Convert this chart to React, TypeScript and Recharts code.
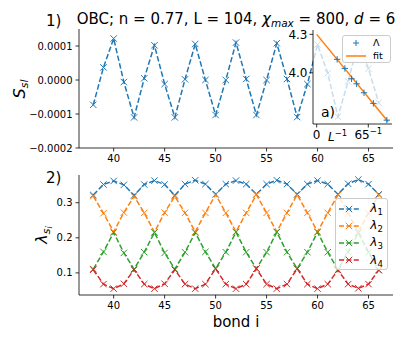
import { LineChart, Line, XAxis, YAxis, CartesianGrid, Legend } from "recharts"

// bond index i
const bonds = [38, 39, 40, 41, 42, 43, 44, 45, 46, 47, 48, 49, 50, 51, 52, 53, 54, 55, 56, 57, 58, 59, 60, 61, 62, 63, 64, 65, 66]

// panel 1): S_sl per bond
const sslValues = [
  -0.000073, 0.000037, 0.000122, -0.000006, -0.00011, 0.000005, 0.000102, -0.000012, -0.00011, 0.000002,
  0.000106, 0.0, -0.000103, 0.0, 0.00011, 0.000003, -0.000103, 0.0, 0.000108, 0.000003,
  -0.000109, -0.000012, 0.000104, 0.00002, -0.000108, -0.000004, 0.000112, 0.000033, -0.000067,
]

// panel 2): λ_1..λ_4 per bond
const lambda1 = [
  0.322, 0.352, 0.362, 0.351, 0.321, 0.352, 0.363, 0.352, 0.321, 0.353,
  0.364, 0.353, 0.324, 0.353, 0.363, 0.353, 0.324, 0.353, 0.364, 0.353,
  0.324, 0.353, 0.363, 0.353, 0.324, 0.354, 0.366, 0.353, 0.324,
]
const lambda2 = [
  0.319, 0.27, 0.217, 0.272, 0.318, 0.271, 0.216, 0.272, 0.318, 0.271,
  0.217, 0.271, 0.323, 0.271, 0.217, 0.271, 0.323, 0.271, 0.217, 0.271,
  0.323, 0.271, 0.217, 0.271, 0.322, 0.27, 0.216, 0.27, 0.322,
]
const lambda3 = [
  0.111, 0.16, 0.215, 0.157, 0.111, 0.159, 0.215, 0.157, 0.111, 0.159,
  0.215, 0.16, 0.112, 0.159, 0.216, 0.159, 0.112, 0.159, 0.216, 0.159,
  0.112, 0.159, 0.216, 0.159, 0.109, 0.16, 0.214, 0.159, 0.108,
]
const lambda4 = [
  0.109, 0.068, 0.055, 0.069, 0.109, 0.068, 0.055, 0.069, 0.109, 0.068,
  0.055, 0.068, 0.112, 0.068, 0.055, 0.068, 0.112, 0.068, 0.055, 0.068,
  0.112, 0.068, 0.055, 0.068, 0.108, 0.068, 0.056, 0.068, 0.108,
]
const lambdaNames = ["λ1", "λ2", "λ3", "λ4"]
const colors = ["#1f77b4", "#ff7f0e", "#2ca02c", "#d62728"]

// inset a): Λ against 1/L and its linear fit
const invL = [0.0061, 0.0084, 0.0104, 0.0119, 0.0141, 0.0169, 0.0209]
const bigLambda = [4.105, 4.034, 3.953, 3.914, 3.844, 3.761, 3.63]
const fitX = [0, 0.0213]
const fitY = [4.3, 3.617]
const insetNames = ["Λ", "fit"]

const xTicks = [40, 45, 50, 55, 60, 65]
const sslTicks = [-0.0002, -0.0001, 0, 0.0001]
const lambdaTicks = [0.1, 0.2, 0.3]
const insetXTicks = [0, 1 / 65]
const insetYTicks = [4.0, 4.3]

const topData = bonds.map((b, i) => ({ bond: b, ssl: sslValues[i] }))
const bottomData = bonds.map((b, i) => ({
  bond: b,
  l1: lambda1[i],
  l2: lambda2[i],
  l3: lambda3[i],
  l4: lambda4[i],
}))
const lambdaSeries = [lambda1, lambda2, lambda3, lambda4].map((_, i) => ({
  key: `l${i + 1}`,
  name: lambdaNames[i],
  color: colors[i],
}))
const pointsData = invL.map((x, i) => ({ x, y: bigLambda[i] }))
const fitData = fitX.map((x, i) => ({ x, y: fitY[i] }))

const font = "DejaVu Sans"
const tickStyle = { fontSize: 10, fill: "#000", fontFamily: font }
const lineStyle = { stroke: "#000", strokeWidth: 0.8 }
const dash = "5.5 2.4"

const xMark = (color: string) => (p: any) => {
  const { cx, cy, index } = p
  if (cx == null || cy == null) return <g key={index} />
  const s = 3.2
  return (
    <path
      key={index}
      d={`M${cx - s},${cy - s}L${cx + s},${cy + s}M${cx - s},${cy + s}L${cx + s},${cy - s}`}
      stroke={color}
      strokeWidth={1}
      fill="none"
    />
  )
}

const plusMark = (color: string) => (p: any) => {
  const { cx, cy, index } = p
  if (cx == null || cy == null) return <g key={index} />
  const s = 3.2
  return (
    <path key={index} d={`M${cx - s},${cy}L${cx + s},${cy}M${cx},${cy - s}L${cx},${cy + s}`} stroke={color} strokeWidth={1} fill="none" />
  )
}

const fmtSsl = (v: number) => (v === 0 ? "0.0000" : (v < 0 ? "\u2212" : "") + Math.abs(v).toFixed(4))

const InsetTick = (p: any) => {
  const { x, y, payload } = p
  const isZero = payload.value === 0
  return (
    <text x={x} y={y + 8.5} textAnchor="middle" fontSize={12} fontFamily={font} fill="#000">
      {isZero ? (
        "0"
      ) : (
        <>
          <tspan>65</tspan>
          <tspan dy={-5} fontSize={8.5}>
            {"\u22121"}
          </tspan>
        </>
      )}
    </text>
  )
}

const renderLambdaLegend = (props: any) => (
  <div
    style={{
      width: 53,
      height: 72,
      boxSizing: "border-box",
      border: "1px solid #cccccc",
      borderRadius: 3,
      background: "rgba(255,255,255,0.8)",
      paddingTop: 1,
      fontFamily: font,
    }}
  >
    {(props.payload || []).map((e: any, i: number) => (
      <div key={i} style={{ height: 17.2, display: "flex", alignItems: "center" }}>
        <svg width={20} height={10} style={{ marginLeft: 3.3, flex: "none" }}>
          <line x1={0} x2={20} y1={5} y2={5} stroke={e.color} strokeWidth={1.5} strokeDasharray="5 2.4" />
          <path d="M6.8,1.8L13.2,8.2M6.8,8.2L13.2,1.8" stroke={e.color} strokeWidth={1} />
        </svg>
        <span style={{ marginLeft: 11, fontSize: 12, lineHeight: "12px", color: "#000" }}>
          <span style={{ fontStyle: "italic" }}>{String(e.value).slice(0, 1)}</span>
          <span style={{ fontSize: 8.5, position: "relative", top: 3 }}>{String(e.value).slice(1)}</span>
        </span>
      </div>
    ))}
  </div>
)

const renderInsetLegend = () => (
  <div
    style={{
      width: 49,
      height: 28,
      boxSizing: "border-box",
      border: "1px solid #cccccc",
      borderRadius: 3,
      background: "rgba(255,255,255,0.8)",
      fontFamily: font,
    }}
  >
    {insetNames.map((name, i) => (
      <div key={name} style={{ height: 13, display: "flex", alignItems: "center" }}>
        <svg width={20} height={8} style={{ marginLeft: 3, flex: "none" }}>
          {i === 1 ? (
            <line x1={0} x2={20} y1={4} y2={4} stroke={colors[1]} strokeWidth={1.5} />
          ) : (
            <path d="M7,4L13,4M10,1L10,7" stroke={colors[0]} strokeWidth={1} />
          )}
        </svg>
        <span style={{ marginLeft: 7, fontSize: 9.5, lineHeight: "10px", color: "#000" }}>{name}</span>
      </div>
    ))}
  </div>
)

export default function App() {
  return (
    <div style={{ position: "fixed", left: 0, top: 0, width: 407, height: 339, background: "#fff", fontFamily: font }}>
      {/* 1) S_sl */}
      <div style={{ position: "absolute", left: 0, top: 0 }}>
        <LineChart width={407} height={170} data={topData} margin={{ top: 29, right: 14, left: 0, bottom: 0 }}>
          <XAxis
            dataKey="bond"
            type="number"
            domain={[36.6, 67.4]}
            ticks={xTicks}
            allowDataOverflow
            tick={tickStyle}
            tickSize={3.5}
            tickMargin={3}
            tickLine={lineStyle}
            axisLine={lineStyle}
            height={22}
          />
          <XAxis xAxisId="top" orientation="top" type="number" domain={[0, 1]} height={0} tick={false} tickLine={false} axisLine={lineStyle} />
          <YAxis
            type="number"
            domain={[-0.0002, 0.00015]}
            ticks={sslTicks}
            allowDataOverflow
            tickFormatter={fmtSsl}
            tick={tickStyle}
            tickSize={3.5}
            tickMargin={3}
            tickLine={lineStyle}
            axisLine={lineStyle}
            width={79}
          />
          <YAxis yAxisId="right" orientation="right" type="number" domain={[0, 1]} width={0} tick={false} tickLine={false} axisLine={lineStyle} />
          <Line
            dataKey="ssl"
            stroke={colors[0]}
            strokeWidth={1.5}
            strokeDasharray={dash}
            dot={xMark(colors[0])}
            activeDot={false}
            isAnimationActive={false}
          />
        </LineChart>
      </div>

      {/* inset a) */}
      <div style={{ position: "absolute", left: 280, top: 0 }}>
        <LineChart width={120} height={150} margin={{ top: 30, right: 8, left: 0, bottom: 0 }}>
          <CartesianGrid horizontal={false} vertical={false} fill="#ffffff" fillOpacity={0.75} />
          <XAxis
            dataKey="x"
            type="number"
            domain={[-0.0011, 0.02245]}
            ticks={insetXTicks}
            interval={0}
            allowDataOverflow
            tick={<InsetTick />}
            tickSize={3.5}
            tickMargin={3}
            tickLine={lineStyle}
            axisLine={lineStyle}
            height={26}
          />
          <XAxis xAxisId="top" orientation="top" type="number" domain={[0, 1]} height={0} tick={false} tickLine={false} axisLine={lineStyle} />
          <YAxis
            type="number"
            domain={[3.6, 4.334]}
            ticks={insetYTicks}
            interval={0}
            allowDataOverflow
            tickFormatter={(v: number) => v.toFixed(1)}
            tick={{ ...tickStyle, fontSize: 12 }}
            tickSize={3.5}
            tickMargin={2}
            tickLine={lineStyle}
            axisLine={lineStyle}
            width={33}
          />
          <YAxis yAxisId="right" orientation="right" type="number" domain={[0, 1]} width={0} tick={false} tickLine={false} axisLine={lineStyle} />
          <Line
            data={pointsData}
            dataKey="y"
            name={insetNames[0]}
            stroke="none"
            dot={plusMark(colors[0])}
            activeDot={false}
            isAnimationActive={false}
          />
          <Line
            data={fitData}
            dataKey="y"
            name={insetNames[1]}
            stroke={colors[1]}
            strokeWidth={1.5}
            dot={false}
            activeDot={false}
            isAnimationActive={false}
          />
          <Legend
            content={renderInsetLegend}
            layout="vertical"
            align="center"
            verticalAlign="middle"
            wrapperStyle={{ left: 62, top: 35, width: 49 }}
          />
        </LineChart>
      </div>

      {/* 2) λ_si */}
      <div style={{ position: "absolute", left: 0, top: 150 }}>
        <LineChart width={407} height={189} data={bottomData} margin={{ top: 25, right: 14, left: 0, bottom: 0 }}>
          <XAxis
            dataKey="bond"
            type="number"
            domain={[36.6, 67.4]}
            ticks={xTicks}
            allowDataOverflow
            tick={tickStyle}
            tickSize={3.5}
            tickMargin={3}
            tickLine={lineStyle}
            axisLine={lineStyle}
            height={44}
          />
          <XAxis xAxisId="top" orientation="top" type="number" domain={[0, 1]} height={0} tick={false} tickLine={false} axisLine={lineStyle} />
          <YAxis
            type="number"
            domain={[0.037, 0.379]}
            ticks={lambdaTicks}
            allowDataOverflow
            tickFormatter={(v: number) => v.toFixed(1)}
            tick={tickStyle}
            tickSize={3.5}
            tickMargin={3}
            tickLine={lineStyle}
            axisLine={lineStyle}
            width={79}
          />
          <YAxis yAxisId="right" orientation="right" type="number" domain={[0, 1]} width={0} tick={false} tickLine={false} axisLine={lineStyle} />
          {lambdaSeries.map((s) => (
            <Line
              key={s.key}
              dataKey={s.key}
              name={s.name}
              stroke={s.color}
              strokeWidth={1.5}
              strokeDasharray={dash}
              dot={xMark(s.color)}
              activeDot={false}
              isAnimationActive={false}
            />
          ))}
          <Legend
            content={renderLambdaLegend}
            layout="vertical"
            align="center"
            verticalAlign="middle"
            wrapperStyle={{ left: 335, top: 48, width: 53 }}
          />
        </LineChart>
      </div>

      {/* titles and axis labels */}
      <svg width={407} height={339} style={{ position: "absolute", left: 0, top: 0, pointerEvents: "none" }} fontFamily={font}>
        <text x={46} y={26} fontSize={15} fill="#000">
          1)
        </text>
        <text x={236} y={24} fontSize={15} fill="#000" textAnchor="middle" style={{ whiteSpace: "pre" }}>
          <tspan>OBC; n = 0.77, L = 104, </tspan>
          <tspan fontStyle="italic">χ</tspan>
          <tspan fontStyle="italic" fontSize={10.5} dy={3}>
            max
          </tspan>
          <tspan dy={-3}> = 800, </tspan>
          <tspan fontStyle="italic">d</tspan>
          <tspan> = 6</tspan>
        </text>
        <text x={46} y={183} fontSize={15} fill="#000">
          2)
        </text>
        <text transform="translate(25, 89) rotate(-90)" fontSize={16} fill="#000" textAnchor="middle">
          <tspan fontStyle="italic">S</tspan>
          <tspan fontStyle="italic" fontSize={11} dy={3}>
            sl
          </tspan>
        </text>
        <text transform="translate(47, 235) rotate(-90)" fontSize={16} fill="#000" textAnchor="middle">
          <tspan fontStyle="italic">λ</tspan>
          <tspan fontStyle="italic" fontSize={11} dy={3}>
            s
          </tspan>
          <tspan fontStyle="italic" fontSize={8} dy={2}>
            i
          </tspan>
        </text>
        <text x={236} y={327} fontSize={15} fill="#000" textAnchor="middle">
          bond i
        </text>
        <text x={321} y={117} fontSize={14} fill="#000">
          a)
        </text>
        <text x={328} y={141} fontSize={12} fill="#000">
          <tspan fontStyle="italic">L</tspan>
          <tspan fontSize={8.5} dy={-5}>
            {"\u22121"}
          </tspan>
        </text>
      </svg>
    </div>
  )
}
